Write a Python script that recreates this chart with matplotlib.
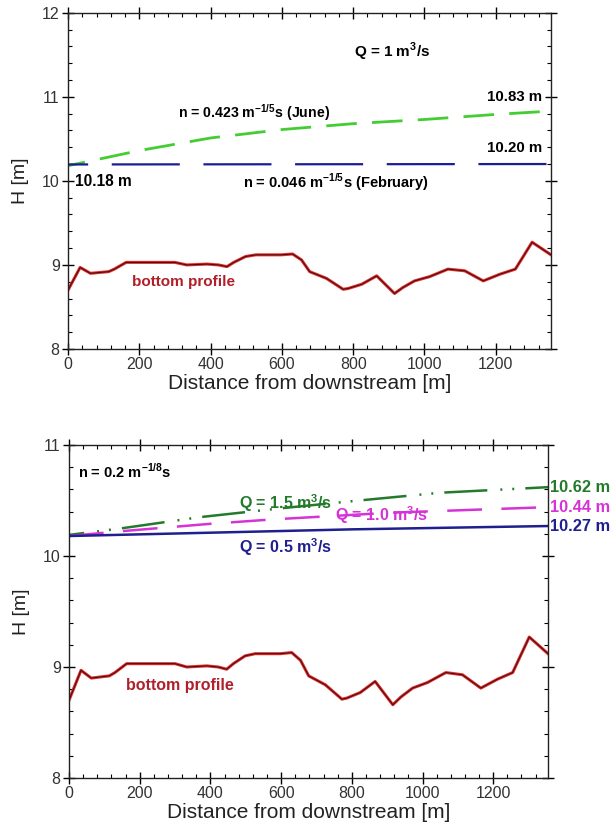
import numpy as np
import matplotlib
matplotlib.use("Agg")
import matplotlib.pyplot as plt
from matplotlib.ticker import MultipleLocator

plt.rcParams['font.family'] = ['Liberation Sans', 'DejaVu Sans']
plt.rcParams['mathtext.fontset'] = 'custom'
plt.rcParams['mathtext.rm'] = 'Liberation Sans'
plt.rcParams['mathtext.bf'] = 'Liberation Sans:bold'
plt.rcParams['lines.scale_dashes'] = False

# River bed elevation along the reach (same in both panels)
bed_x = [0, 34, 63, 88, 114, 130, 163, 300, 333, 390, 422, 446, 465, 498, 527,
         598, 630, 655, 678, 725, 772, 786, 824, 866, 916, 939, 972, 1014,
         1066, 1113, 1165, 1212, 1255, 1302, 1355]
bed_h = [8.70, 8.97, 8.90, 8.91, 8.92, 8.95, 9.03, 9.03, 9.00, 9.01, 9.00, 8.98,
         9.03, 9.10, 9.12, 9.12, 9.13, 9.06, 8.92, 8.84, 8.71, 8.72, 8.77, 8.87,
         8.66, 8.73, 8.81, 8.86, 8.95, 8.93, 8.81, 8.89, 8.95, 9.27, 9.12]

# Water surface, Q = 1 m3/s, two roughness values
june_x = [0, 100, 200, 400, 600, 800, 1000, 1200, 1355]
june_h = [10.18, 10.27, 10.36, 10.51, 10.61, 10.68, 10.73, 10.79, 10.83]
feb_x = [0, 1355]
feb_h = [10.195, 10.20]

# Water surface, n = 0.2, three discharges
q15_x = [0, 150, 370, 600, 820, 1050, 1355]
q15_h = [10.19, 10.25, 10.35, 10.43, 10.50, 10.57, 10.62]
q10_x = [0, 136, 400, 578, 909, 1355]
q10_h = [10.18, 10.22, 10.29, 10.33, 10.39, 10.44]
q05_x = [0, 400, 800, 1355]
q05_h = [10.18, 10.21, 10.24, 10.27]

X_MAX = 1355
W, H = 616, 836
fig = plt.figure(figsize=(W / 100, H / 100), dpi=100)
ax1 = fig.add_axes([68 / W, 1 - 349 / H, (551 - 68) / W, (349 - 12.7) / H])
ax2 = fig.add_axes([69 / W, 1 - 778 / H, (548 - 69) / W, (778 - 445) / H])

tick_col = '#333333'


def style_axes(ax, ylim):
    ax.set_xlim(0, X_MAX)
    ax.set_ylim(*ylim)
    ax.xaxis.set_major_locator(MultipleLocator(200))
    ax.xaxis.set_minor_locator(MultipleLocator(40))
    ax.yaxis.set_major_locator(MultipleLocator(1))
    ax.yaxis.set_minor_locator(MultipleLocator(0.2))
    ax.tick_params(which='major', direction='inout', length=8, width=1,
                   top=True, right=True, labelsize=11.5, labelcolor=tick_col,
                   pad=2)
    ax.tick_params(which='minor', direction='in', length=3, width=0.8,
                   top=True, right=True)
    for s in ax.spines.values():
        s.set_linewidth(1.0)
        s.set_color('#222222')
    ax.set_xlabel('Distance from downstream [m]', fontsize=15, color='#222222',
                  labelpad=1)
    ax.set_ylabel('H [m]', fontsize=14, color='#222222', labelpad=9)


def draw_bed(ax):
    ax.plot(bed_x, bed_h, color='#ee2a2a', lw=2.2, solid_joinstyle='round')
    ax.plot(bed_x, bed_h, color='#3c1414', lw=0.8, solid_joinstyle='round')


# Upper panel
style_axes(ax1, (8, 12))
draw_bed(ax1)
ax1.plot(june_x, june_h, color='#44cc33', lw=2.0, linestyle=(9.6, (22, 11)))
ax1.plot(feb_x, feb_h, color='#1c1c96', lw=1.6, linestyle=(34.5, (49, 17)))
ax1.text(909, 11.53, 'Q = 1 m$^{\\mathbf{3}}$/s', ha='center', va='center',
         fontweight='bold', fontsize=11)
ax1.text(1329, 11.0, '10.83 m', ha='right', va='center', fontweight='bold',
         fontsize=10.8)
ax1.text(1329, 10.39, '10.20 m', ha='right', va='center', fontweight='bold',
         fontsize=10.8)
ax1.text(20, 9.99, '10.18 m', ha='left', va='center', fontweight='bold',
         fontsize=11.2)
ax1.text(521, 10.81, 'n = 0.423 m$^{\\mathbf{-1/5}}$s (June)', ha='center',
         va='center', fontweight='bold', fontsize=10.2)
ax1.text(752, 9.98, 'n = 0.046 m$^{\\mathbf{-1/5}}$s (February)', ha='center',
         va='center', fontweight='bold', fontsize=10.5)
ax1.text(324, 8.80, 'bottom profile', ha='center', va='center',
         color='#b01f2a', fontweight='bold', fontsize=11)

# Lower panel
style_axes(ax2, (8, 11))
draw_bed(ax2)
ax2.plot(q15_x, q15_h, color='#237a2b', lw=1.8,
         linestyle=(20, (31, 9.4, 1.4, 7.2, 1.4, 8)))
ax2.plot(q10_x, q10_h, color='#d633d6', lw=1.8, linestyle=(0, (25, 14)))
ax2.plot(q05_x, q05_h, color='#1f1f8f', lw=1.8)
ax2.text(26, 10.76, 'n = 0.2 m$^{\\mathbf{-1/8}}$s', ha='left', va='center',
         fontweight='bold', fontsize=10.5)
q_labels = [(613, 10.48, '#237a2b', '1.5'), (884, 10.37, '#d633d6', '1.0'),
            (613, 10.08, '#1f1f8f', '0.5')]
for x, y, col, q in q_labels:
    ax2.text(x, y, 'Q = ' + q + ' m$^{\\mathbf{3}}$/s', ha='center',
             va='center', color=col, fontweight='bold', fontsize=11.5)
for h, col, lab in [(10.62, '#237a2b', '10.62 m'), (10.44, '#d633d6', '10.44 m'),
                    (10.27, '#1f1f8f', '10.27 m')]:
    ax2.text(X_MAX + 6, h, lab, ha='left', va='center', color=col,
             clip_on=False, fontweight='bold', fontsize=11.8)
ax2.text(313, 8.83, 'bottom profile', ha='center', va='center',
         color='#b01f2a', fontweight='bold', fontsize=11.5)

fig.savefig('out.png', dpi=100)
